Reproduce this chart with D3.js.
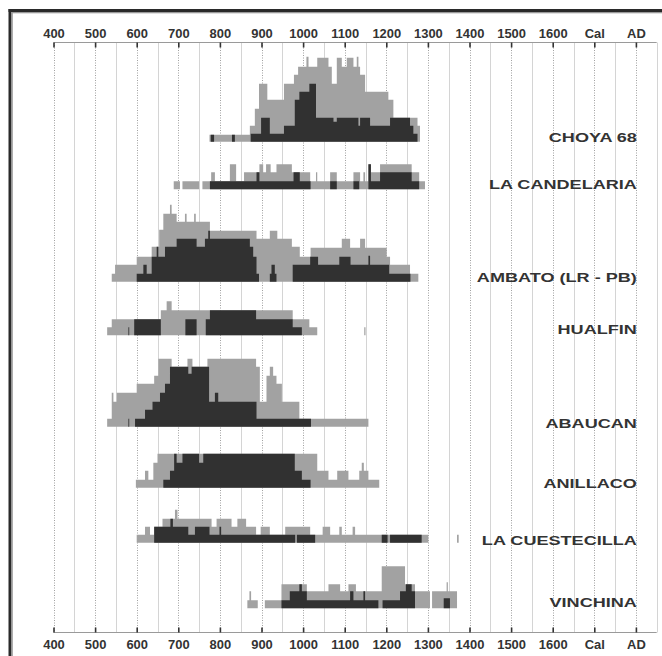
<!DOCTYPE html>
<html><head><meta charset="utf-8">
<script src="https://cdn.jsdelivr.net/npm/d3@7"></script>
<style>body{margin:0;background:#fff}svg{display:block}</style>
</head><body>
<svg id="c" width="662" height="656"></svg>
<script>
// ---- data (years Cal AD, relative summed probability) ----
const sites = ["CHOYA 68","LA CANDELARIA","AMBATO (LR - PB)","HUALFIN","ABAUCAN","ANILLACO","LA CUESTECILLA","VINCHINA"];
const tickYears = [400,500,600,700,800,900,1000,1100,1200,1300,1400,1500,1600,1700,1800];
const tickLabels = ["400","500","600","700","800","900","1000","1100","1200","1300","1400","1500","1600","Cal","AD"];

const choyaLightEdges = [775,872,884,894,914,954,978,988,1008,1013,1034,1061,1069,1081,1093,1105,1121,1129,1133,1137,1149,1205,1217,1275,1281];
const choyaLightVals  = [7,16,33,58,42,58,67,75,85,75,84,75,58,84,75,84,75,85,75,67,50,42,24,16];
const choyaDarkEdges  = [778,786,829,836,874,899,920,954,980,991,1015,1031,1073,1081,1133,1137,1161,1209,1257,1265,1275];
const choyaDarkVals   = [7,0,7,0,8,24,8,16,42,50,58,24,20,24,16,24,16,24,16,8];

const candLightEdges = [689,704,710,750,758,779,788,824,839,858,895,904,911,922,936,973,1017,1031,1034,1065,1081,1121,1137,1145,1149,1157,1163,1185,1261,1279,1293];
const candLightVals  = [8,0,8,0,8,17,8,25,8,17,25,17,25,17,25,17,8,17,8,17,8,17,8,17,8,25,17,25,17,8];
const candDarkEdges  = [776,888,895,977,992,1018,1065,1081,1121,1135,1157,1163,1185,1261,1279];
const candDarkVals   = [8,17,8,17,8,0,8,0,8,0,25,8,17,8];

const ambatoLightEdges = [540,548,600,636,654,664,680,684,696,716,720,738,742,776,888,920,938,973,992,1018,1093,1113,1137,1149,1201,1209,1257,1277];
const ambatoLightVals  = [8,17,25,35,52,68,77,68,60,68,60,68,60,51,43,51,43,35,25,34,43,34,43,34,25,17,8];
const ambatoDarkEdges  = [600,616,624,636,648,652,668,680,696,744,764,772,776,872,880,888,894,920,924,932,936,975,1017,1036,1087,1114,1157,1161,1207,1258];
const ambatoDarkVals   = [8,17,8,25,35,25,35,35,43,35,43,51,43,35,25,8,0,8,17,8,0,17,25,17,25,17,26,17,8];

const hualfinLightEdges = [529,540,658,672,684,975,1015,1034,1147,1150];
const hualfinLightVals  = [8,16,25,34,25,16,8,0,8];
const hualfinDarkEdges  = [580,582,594,658,717,744,766,776,887,975,997];
const hualfinDarkVals   = [8,0,16,0,16,0,16,25,16,8];

const abaucanLightEdges = [529,540,544,552,600,642,652,684,722,734,770,887,896,912,920,928,936,949,991,1157];
const abaucanLightVals  = [8,34,25,34,43,51,68,60,68,60,68,60,25,51,60,51,43,25,8];
const abaucanDarkEdges  = [580,582,596,620,638,656,668,680,724,732,774,788,796,888,1019];
const abaucanDarkVals   = [8,0,8,17,25,34,43,60,53,60,25,34,25,8];

const anillacoLightEdges = [598,620,628,640,650,1034,1061,1082,1109,1135,1141,1146,1157,1183];
const anillacoLightVals  = [8,17,8,25,34,17,8,17,8,17,25,17,8];
const anillacoDarkEdges  = [664,680,690,696,710,750,760,980,997,1018];
const anillacoDarkVals   = [8,17,34,25,34,25,34,17,8];

const cuestLightEdges = [600,620,632,642,662,692,698,780,792,828,842,863,887,898,920,957,1017,1047,1065,1087,1093,1119,1125,1301,1370,1374];
const cuestLightVals  = [8,16,8,16,24,33,24,16,24,16,24,16,8,16,8,16,8,16,8,16,8,16,8,0,8];
const cuestDarkEdges  = [642,681,687,724,740,775,799,803,981,985,1029,1189,1203,1209,1285];
const cuestDarkVals   = [16,24,16,8,16,8,16,8,0,8,0,8,0,8];

const vinchLightEdges = [866,871,875,891,908,948,1009,1061,1089,1109,1127,1189,1245,1269,1305,1310,1345,1348,1370];
const vinchLightVals  = [8,17,8,0,8,24,17,24,17,24,17,42,24,17,0,17,26,17];
const vinchDarkEdges  = [948,968,991,997,1009,1113,1121,1145,1149,1181,1191,1233,1247,1261,1269,1338,1353];
const vinchDarkVals   = [8,17,24,17,8,17,8,17,8,0,8,17,24,17,0,10];

// ---- layout ----
const rowBase  = [141.7,189.3,281.7,335.3,426.7,487.7,542.7,608.3];
const labelBase= [142,189,282,334,428,488,545,607];
const rows = [
  [choyaLightEdges,choyaLightVals,choyaDarkEdges,choyaDarkVals],
  [candLightEdges,candLightVals,candDarkEdges,candDarkVals],
  [ambatoLightEdges,ambatoLightVals,ambatoDarkEdges,ambatoDarkVals],
  [hualfinLightEdges,hualfinLightVals,hualfinDarkEdges,hualfinDarkVals],
  [abaucanLightEdges,abaucanLightVals,abaucanDarkEdges,abaucanDarkVals],
  [anillacoLightEdges,anillacoLightVals,anillacoDarkEdges,anillacoDarkVals],
  [cuestLightEdges,cuestLightVals,cuestDarkEdges,cuestDarkVals],
  [vinchLightEdges,vinchLightVals,vinchDarkEdges,vinchDarkVals]
];

const svg = d3.select("#c");
const x = d3.scaleLinear().domain([400,1600]).range([53.5,552.7]);
const h = d3.scaleLinear().domain([0,100]).range([0,100]);
const topY = 42.5, botY = 632.5;
const FONT = "'Liberation Sans', Arial, sans-serif";

// frame (extends past right and bottom edges)
const frame = svg.append("g");
frame.append("rect").attr("x",8.5).attr("y",9).attr("width",660).attr("height",3).attr("fill","#2a2a2a");
frame.append("rect").attr("x",8.5).attr("y",9).attr("width",3).attr("height",660).attr("fill","#2a2a2a");
frame.append("rect").attr("x",11.5).attr("y",12).attr("width",660).attr("height",1.3).attr("fill","#9a9a9a");
frame.append("rect").attr("x",11.5).attr("y",12).attr("width",1.3).attr("height",660).attr("fill","#9a9a9a");

// grid
const gridYears = d3.range(400,1851,50);
svg.append("g").selectAll("line").data(gridYears).join("line")
  .attr("x1",d=>Math.round(x(d))+0.5).attr("x2",d=>Math.round(x(d))+0.5)
  .attr("y1",topY).attr("y2",botY)
  .attr("stroke",d=>d%100===0?"#a0a0a0":"#d4d4d4")
  .attr("stroke-dasharray",d=>d%100===0?"1,1.5":null)
  .attr("stroke-width",1);

// axis lines
[topY,botY].forEach(yy=>{
  svg.append("line").attr("x1",x(400)).attr("x2",x(1850)).attr("y1",yy).attr("y2",yy)
    .attr("stroke","#9a9a9a").attr("stroke-width",1);
});

const fmt = d => tickLabels[tickYears.indexOf(d)];
const axT = d3.axisTop(x).tickValues(tickYears).tickFormat(fmt).tickSizeInner(-5).tickSizeOuter(0).tickPadding(4.5);
const axB = d3.axisBottom(x).tickValues(tickYears).tickFormat(fmt).tickSizeInner(-5).tickSizeOuter(0).tickPadding(8);
function styleAxis(g){
  g.select(".domain").remove();
  g.selectAll(".tick line").attr("stroke","#333").attr("stroke-width",1.6);
  g.selectAll(".tick text").attr("fill","#333").attr("font-family",FONT)
   .attr("font-weight","bold").attr("font-size",12).attr("transform","scale(1.08,1)");
}
svg.append("g").attr("transform",`translate(0,${topY})`).call(axT).call(styleAxis);
svg.append("g").attr("transform",`translate(0,${botY})`).call(axB).call(styleAxis);

// series
function pts(edges, vals){
  return edges.map((e,i)=>[e, vals[Math.min(i, vals.length-1)]]);
}
rows.forEach((r,i)=>{
  const base = rowBase[i];
  const area = d3.area().curve(d3.curveStepAfter)
    .x(d=>x(d[0])).y0(base).y1(d=>base - h(d[1]));
  svg.append("path").attr("d",area(pts(r[0],r[1]))).attr("fill","#a2a2a2");
  svg.append("path").attr("d",area(pts(r[2],r[3]))).attr("fill","#313131");
});

// labels
svg.append("g").selectAll("text").data(sites).join("text")
  .attr("transform",(d,i)=>`translate(${x(1800)+1},${labelBase[i]}) scale(1.34,1)`)
  .attr("text-anchor","end").attr("font-family",FONT).attr("font-weight","bold")
  .attr("font-size",13.5).attr("fill","#333").text(d=>d);
</script>
</body></html>
